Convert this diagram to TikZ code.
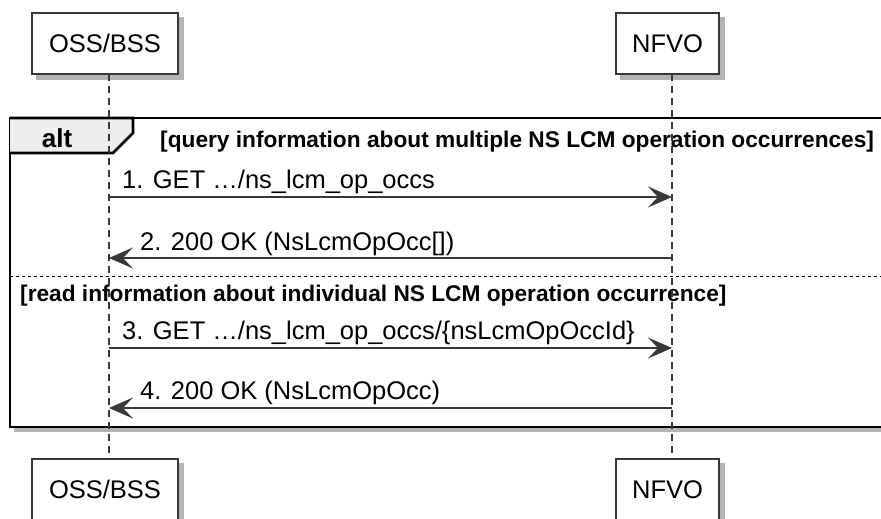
\documentclass[tikz,border=0pt]{standalone}
\usepackage{fontspec}
\setmainfont{Liberation Sans}
\usetikzlibrary{arrows.meta,backgrounds}

\definecolor{umlline}{HTML}{383838}
\definecolor{umltab}{HTML}{EEEEEE}
\definecolor{umlshadow}{HTML}{B4B4B4}

\begin{document}
\begin{tikzpicture}[x=1pt,y=-1pt,
		participant/.style={draw=umlline, line width=1.6pt, fill=white, inner sep=0pt,
			font=\fontsize{25.5}{30}\selectfont},
		lifeline/.style={umlline, line width=1.2pt, dash pattern=on 7pt off 5pt},
		msg/.style={umlline, line width=1.5pt, -{Stealth[length=24pt,width=21pt,inset=10pt]}},
		msglabel/.style={anchor=base west, inner sep=0pt, font=\fontsize{25.5}{30}\selectfont},
		guard/.style={anchor=base west, inner sep=0pt, font=\bfseries\fontsize{22.7}{27}\selectfont}]
	\useasboundingbox (0,0) rectangle (881,519);
	\clip (0,0) rectangle (881,519);

	% alt frame
	\fill[umlshadow] (14,122) rectangle (900,432);
	\draw[line width=2.6pt, fill=white] (10,118) rectangle (900,427);
	\draw[line width=2.6pt, fill=umltab] (10,118) -- (133,118) -- (133,133) -- (113,153) -- (10,153);
	\node[font=\bfseries\fontsize{26}{30}\selectfont, inner sep=0pt] (alt) at (57,138) {alt};
	\node[guard] (guardA) at (160,147) {[query information about multiple NS LCM operation occurrences]};
	\draw[line width=1pt, dash pattern=on 3pt off 3pt] (10,276) -- (900,276);
	\node[guard] (guardB) at (20,301) {[read information about individual NS LCM operation occurrence]};

	% participants
	\node[participant, minimum width=146pt, minimum height=61pt] (ossTop) at (105,43.5) {OSS/BSS};
	\node[participant, minimum width=103pt, minimum height=61pt] (nfvoTop) at (667.5,43.5) {NFVO};
	\node[participant, minimum width=146pt, minimum height=61pt] (ossBot) at (105,489.5) {OSS/BSS};
	\node[participant, minimum width=103pt, minimum height=61pt] (nfvoBot) at (667.5,489.5) {NFVO};

	% shadows behind the boxes
	\begin{scope}[on background layer]
		\foreach \p in {ossTop,nfvoTop,ossBot,nfvoBot}
			\fill[umlshadow] ([shift={(5,5)}]\p.north west) rectangle ([shift={(5,5)}]\p.south east);
	\end{scope}

	% lifelines
	\coordinate (ossA) at (109,74);
	\coordinate (ossB) at (109,459);
	\coordinate (nfvoA) at (672,74);
	\coordinate (nfvoB) at (672,459);
	\draw[lifeline] (ossA) -- (ossB);
	\draw[lifeline] (nfvoA) -- (nfvoB);

	% messages
	\coordinate (oss1) at (109,197);  \coordinate (nfvo1) at (672,197);
	\coordinate (oss2) at (109,258);  \coordinate (nfvo2) at (672,258);
	\coordinate (oss3) at (109,348);  \coordinate (nfvo3) at (672,348);
	\coordinate (oss4) at (109,408);  \coordinate (nfvo4) at (672,408);

	\draw[msg] (oss1) -- (nfvo1);
	\node[msglabel] (lbl1) at (122,188) {1. GET …/ns\_lcm\_op\_occs};
	\draw[msg] (nfvo2) -- (oss2);
	\node[msglabel] (lbl2) at (140,250) {2. 200 OK (NsLcmOpOcc[])};
	\draw[msg] (oss3) -- (nfvo3);
	\node[msglabel] (lbl3) at (122,339) {3. GET …/ns\_lcm\_op\_occs/\{nsLcmOpOccId\}};
	\draw[msg] (nfvo4) -- (oss4);
	\node[msglabel] (lbl4) at (140,399) {4. 200 OK (NsLcmOpOcc)};
\end{tikzpicture}
\end{document}
